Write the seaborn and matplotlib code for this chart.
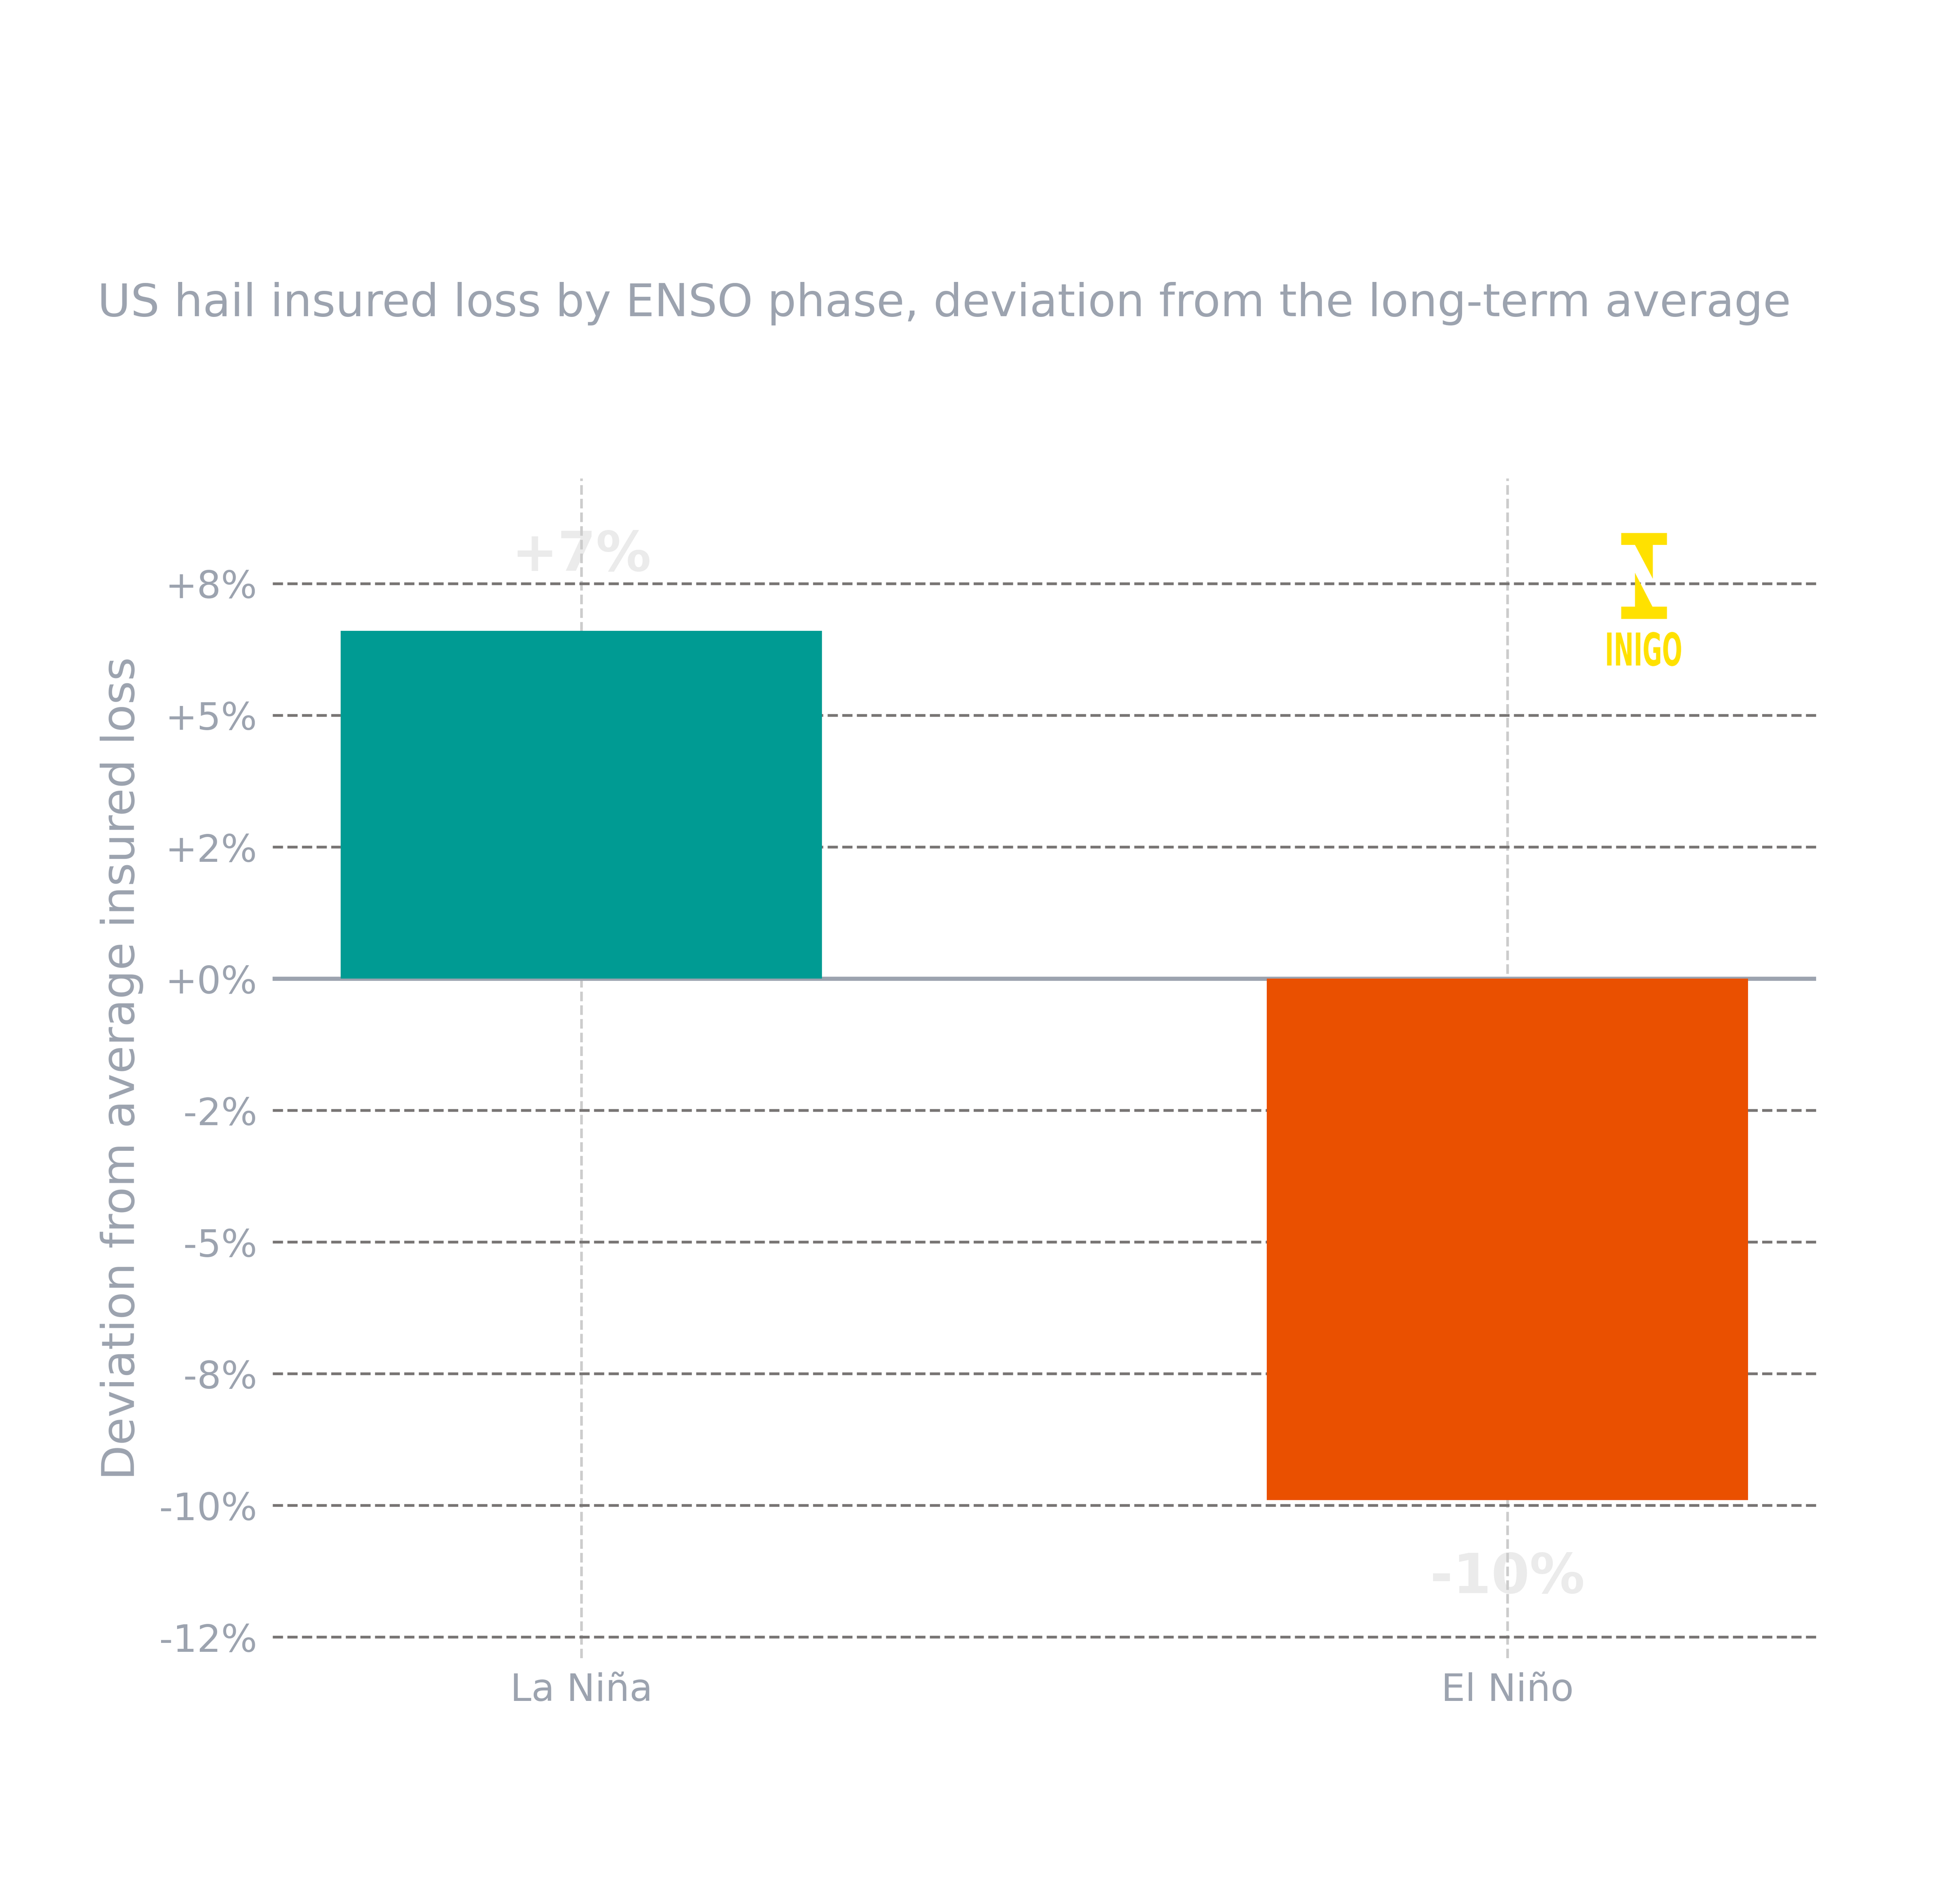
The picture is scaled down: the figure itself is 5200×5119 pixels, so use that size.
import matplotlib
matplotlib.use("Agg")
import matplotlib.pyplot as plt
import matplotlib.patches as mpatches
from matplotlib.textpath import TextPath
from matplotlib.font_manager import FontProperties
from matplotlib.transforms import Affine2D
import seaborn as sns
import numpy as np
import pandas as pd

# data
phases = ["La Niña", "El Niño"]
deviation = [6.6, -9.9]
labels = ["+7%", "-10%"]
bar_colors = ["#009B93", "#EA5000"]
y_ticks = [-12.5, -10, -7.5, -5, -2.5, 0, 2.5, 5, 7.5]

TITLE = "US hail insured loss by ENSO phase, deviation from the long-term average"
GRAY = "#9CA3AF"
LOGO = "#FFE100"
W, H = 5200, 5120

sns.set_theme(style="white")
plt.rcParams["font.family"] = ["DejaVu Sans"]

df = pd.DataFrame({"phase": phases, "dev": deviation})

fig = plt.figure(figsize=(15.6, 15.36), dpi=1000 / 3)
ax = fig.add_axes([0.141, 0.1291, 0.798, 0.6196])

sns.barplot(data=df, x="phase", y="dev", hue="phase", palette=bar_colors,
            width=0.52, legend=False, saturation=1, linewidth=0, ax=ax, zorder=3)

ax.set_xlim(-1 / 3, 4 / 3)
ax.set_ylim(-12.9, 9.5)
ax.set_yticks(y_ticks)
ax.set_yticklabels([f"{v:+.0f}%" for v in y_ticks])

for s in ax.spines.values():
    s.set_visible(False)

ax.set_axisbelow(True)
ax.yaxis.grid(True, color="#787574", linewidth=1.6, linestyle="--")
ax.xaxis.grid(True, color="#CCCCCC", linewidth=1.5, linestyle="--")
ax.axhline(0, color=GRAY, linewidth=2.4, zorder=2)

ax.tick_params(axis="both", length=0, labelsize=22, labelcolor=GRAY)
ax.tick_params(axis="y", pad=9)
ax.tick_params(axis="x", pad=8)

ax.set_xlabel("")
ax.set_ylabel("Deviation from average insured loss", fontsize=26.4, color=GRAY, labelpad=9)

for i, (v, lab) in enumerate(zip(deviation, labels)):
    off = 44 if v >= 0 else -45
    ax.annotate(lab, xy=(i, v), xytext=(0, off), textcoords="offset points",
                ha="center", va="center", fontsize=32, fontweight="bold",
                color="#EBEBEB", zorder=0.3)

fig.text(262 / W, 1 - 850 / H, TITLE, fontsize=26.4, color=GRAY,
         ha="left", va="baseline")


# logo mark, drawn in figure pixel space
def px(x, y):
    return (x / W, 1 - y / H)


logo_shapes = [
    [px(4359, 1434), px(4482, 1434), px(4482, 1466), px(4359, 1466)],
    [px(4359, 1632), px(4482, 1632), px(4482, 1665), px(4359, 1665)],
    [px(4396, 1466), px(4444, 1466), px(4444, 1557)],
    [px(4396, 1541), px(4396, 1632), px(4443, 1632)],
]
for pts in logo_shapes:
    fig.patches.append(mpatches.Polygon(pts, closed=True, facecolor=LOGO,
                                        edgecolor="none", transform=fig.transFigure))

# condensed wordmark: squeeze a bold text path into the logo box
tp = TextPath((0, 0), "INIGO", size=10,
              prop=FontProperties(family="DejaVu Sans", weight="bold"))
ext = tp.get_extents()
x0, x1, ytop, ybot = 4321, 4520, 1700, 1792
sx = (x1 - x0) / W / ext.width
sy = (ybot - ytop) / H / ext.height
tr = (Affine2D().translate(-ext.x0, -ext.y0).scale(sx, sy)
      .translate(x0 / W, 1 - ybot / H) + fig.transFigure)
fig.patches.append(mpatches.PathPatch(tp, facecolor=LOGO, edgecolor="none",
                                      transform=tr))

fig.savefig("out.png", dpi=1000 / 3, facecolor="white")
